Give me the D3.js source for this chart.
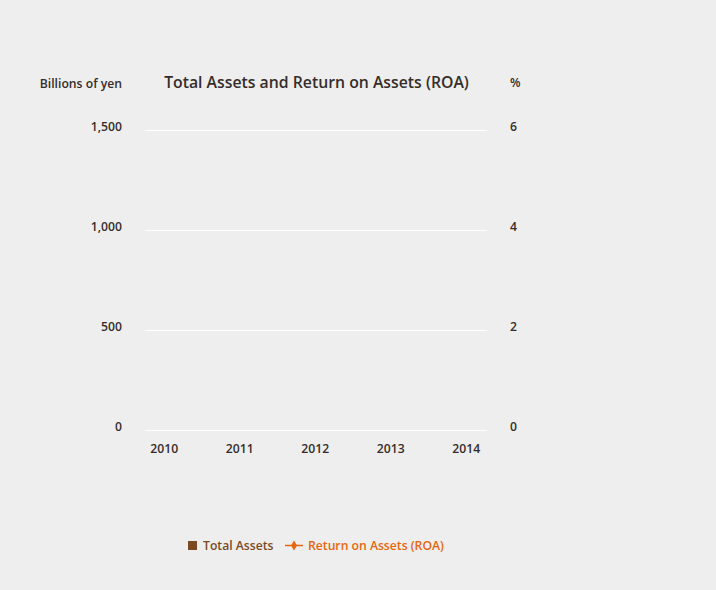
<!DOCTYPE html>
<html>
<head>
<meta charset="utf-8">
<script src="https://cdn.jsdelivr.net/npm/d3@7"></script>
<style>
  body { margin: 0; background: #eeeeee; }
  svg { display: block; }
  text { font-family: "Open Sans", "Noto Sans", sans-serif; font-weight: 600; fill: #352d2b; }
</style>
</head>
<body>
<script>
// data -- the reference shows no bars or line points, so the series are empty
var years = ["2010", "2011", "2012", "2013", "2014"];
var totalAssets = [];   // billions of yen
var roa = [];           // %
var leftTicks = [0, 500, 1000, 1500];
var rightTicks = [0, 2, 4, 6];

var width = 716, height = 590;
var brown = "#7a4b23", orange = "#e8660e";
var fs = 12.2;

var svg = d3.select("body").append("svg")
    .attr("width", width)
    .attr("height", height);

var x = d3.scaleBand().domain(years).range([126.5, 504]);
var y = d3.scaleLinear().domain([0, 1500]).range([430, 130]);
var y2 = d3.scaleLinear().domain([0, 6]).range([430, 130]);

// gridlines
svg.append("g")
  .selectAll("line")
  .data(leftTicks)
  .enter().append("line")
    .attr("x1", 145).attr("x2", 487)
    .attr("y1", function(d){ return y(d) + 0.5; })
    .attr("y2", function(d){ return y(d) + 0.5; })
    .attr("stroke", "#ffffff")
    .attr("stroke-width", 1);

// left axis labels
svg.append("g")
  .selectAll("text")
  .data(leftTicks)
  .enter().append("text")
    .attr("x", 122)
    .attr("y", function(d){ return y(d); })
    .attr("dy", "0.05em")
    .attr("text-anchor", "end")
    .attr("font-size", fs)
    .text(function(d){ return d3.format(",")(d); });

// right axis labels
svg.append("g")
  .selectAll("text")
  .data(rightTicks)
  .enter().append("text")
    .attr("x", 510)
    .attr("y", function(d){ return y2(d); })
    .attr("dy", "0.05em")
    .attr("font-size", fs)
    .text(function(d){ return d; });

// year labels
svg.append("g")
  .selectAll("text")
  .data(years)
  .enter().append("text")
    .attr("x", function(d){ return x(d) + x.bandwidth() / 2; })
    .attr("y", 453)
    .attr("text-anchor", "middle")
    .attr("font-size", fs)
    .text(function(d){ return d; });

// bars
svg.append("g")
  .selectAll("rect")
  .data(totalAssets)
  .enter().append("rect")
    .attr("x", function(d, i){ return x(years[i]) + x.bandwidth() * 0.25; })
    .attr("width", x.bandwidth() * 0.5)
    .attr("y", function(d){ return y(d); })
    .attr("height", function(d){ return y(0) - y(d); })
    .attr("fill", brown);

// roa line
var line = d3.line()
    .x(function(d, i){ return x(years[i]) + x.bandwidth() / 2; })
    .y(function(d){ return y2(d); });
if (roa.length) {
  svg.append("path").datum(roa)
    .attr("d", line)
    .attr("fill", "none")
    .attr("stroke", orange)
    .attr("stroke-width", 2);
}

// titles
svg.append("text")
  .attr("x", 122).attr("y", 88)
  .attr("text-anchor", "end")
  .attr("font-size", fs)
  .text("Billions of yen");

svg.append("text")
  .attr("x", 316.5).attr("y", 88)
  .attr("text-anchor", "middle")
  .attr("font-size", 15.8)
  .text("Total Assets and Return on Assets (ROA)");

svg.append("text")
  .attr("x", 510).attr("y", 87)
  .attr("font-size", fs)
  .attr("font-weight", 400)
  .text("%");

// legend
var leg = svg.append("g");
leg.append("rect")
  .attr("x", 188).attr("y", 541)
  .attr("width", 9).attr("height", 9)
  .attr("fill", brown);
leg.append("text")
  .attr("x", 203).attr("y", 550)
  .attr("font-size", fs)
  .style("fill", brown)
  .text("Total Assets");
leg.append("line")
  .attr("x1", 285).attr("x2", 303)
  .attr("y1", 545.5).attr("y2", 545.5)
  .attr("stroke", orange).attr("stroke-width", 1.5);
leg.append("path")
  .attr("d", d3.symbol().type(d3.symbolDiamond).size(30))
  .attr("transform", "translate(294,545.5)")
  .attr("fill", orange);
leg.append("text")
  .attr("x", 308).attr("y", 550)
  .attr("font-size", fs)
  .style("fill", orange)
  .text("Return on Assets (ROA)");
</script>
</body>
</html>
